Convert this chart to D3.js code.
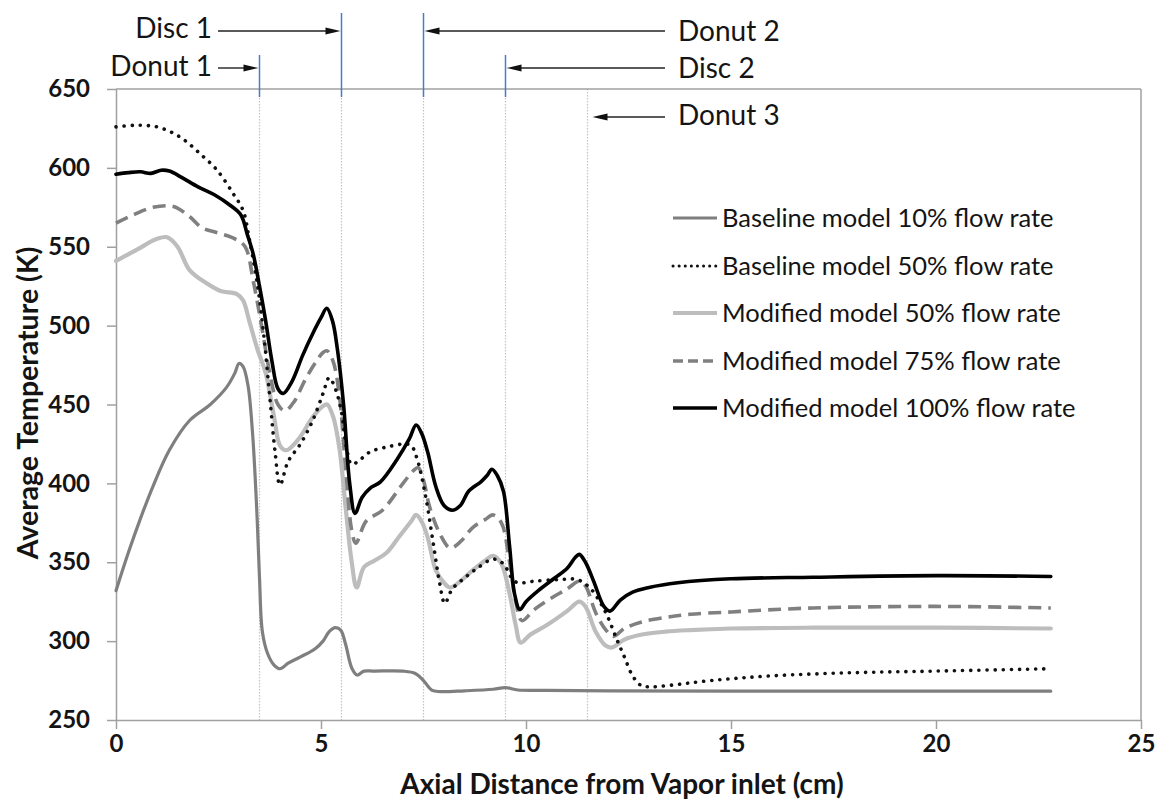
<!DOCTYPE html>
<html>
<head>
<meta charset="utf-8">
<script src="https://cdn.jsdelivr.net/npm/d3@7"></script>
<style>
  html, body { margin: 0; padding: 0; background: #fff; }
  svg { display: block; font-family: Lato, "Open Sans", sans-serif; }
</style>
</head>
<body>
<svg id="chart" width="1165" height="800"></svg>
<script>
// Axial temperature profiles, [distance (cm), temperature (K)]
const baseline10 = [
  [0,332],[0.3,356],[0.6,378],[0.9,398],[1.3,421],[1.8,440],[2.3,450],[2.7,461],[2.9,470],
  [3.0,476],[3.1,474],[3.22,462],[3.33,432],[3.43,385],[3.5,340],[3.57,306],[3.7,292],[3.85,285],
  [4.0,282.5],[4.2,286],[4.5,290],[4.85,295],[5.05,300],[5.2,306],[5.35,308.5],[5.48,307],
  [5.6,298],[5.75,283],[5.88,278.5],[6.05,281],[6.3,281],[7.0,281],[7.3,279.5],[7.5,275],
  [7.7,269],[7.9,268],[8.5,268.5],[9.2,269.5],[9.5,270.5],[9.8,269],[10.5,268.8],[12,268.5],
  [15,268.3],[22.8,268.3]
];
const baseline50 = [
  [0,626],[0.5,627],[1.0,626],[1.4,622],[1.7,617],[2.05,609],[2.45,599],[2.85,584],[3.1,573],
  [3.25,555],[3.45,526],[3.6,495],[3.75,455],[3.88,420],[4.0,399],[4.2,414],[4.5,425],[4.8,440],
  [5.05,457],[5.2,467],[5.35,460],[5.5,445],[5.62,423],[5.75,412],[5.95,415],[6.2,420],[6.6,423],
  [7.05,425],[7.2,424],[7.35,415],[7.55,392],[7.75,360],[7.9,336],[8.02,324],[8.2,333],[8.5,340],
  [8.8,346],[9.2,352],[9.45,349],[9.65,340],[9.8,337],[10.2,338],[10.8,339],[11.25,339],[11.55,334],
  [11.8,325],[12.0,315],[12.2,302],[12.4,290],[12.6,278],[12.8,272],[13.0,271],[13.5,272],
  [14.5,275],[16,278],[18,280],[20,281],[22.8,282.5]
];
const modified50 = [
  [0,541],[0.5,548],[1.0,555],[1.25,556],[1.5,550],[1.8,535],[2.2,527],[2.55,522],[2.95,520],
  [3.1,516],[3.25,503],[3.45,485],[3.65,470],[3.85,443],[4.0,424],[4.15,421],[4.45,428],[4.8,442],
  [5.05,449],[5.15,450],[5.3,442],[5.45,422],[5.6,385],[5.75,350],[5.87,334],[6.05,347],[6.3,351],
  [6.6,356],[6.9,366],[7.2,376],[7.32,380],[7.45,376],[7.6,366],[7.8,345],[8.0,337],[8.15,334],
  [8.4,338],[8.7,345],[9.0,351],[9.2,354],[9.4,349],[9.6,330],[9.75,310],[9.87,299],[10.1,304],
  [10.5,310],[11.0,319],[11.3,325],[11.45,322],[11.7,306],[11.95,297],[12.1,296],[12.4,301],
  [12.8,304],[13.4,306],[14,307],[15,308],[17,308.5],[20,308.5],[22.8,308]
];
const modified75 = [
  [0,565],[0.4,570],[0.9,575],[1.4,575.5],[1.8,569],[2.1,562],[2.45,559],[2.9,555],[3.15,550],
  [3.35,528],[3.55,500],[3.75,470],[3.95,450],[4.12,446],[4.35,452],[4.6,465],[4.85,476],[5.05,483],
  [5.15,484],[5.3,477],[5.45,455],[5.6,410],[5.75,370],[5.85,362],[6.1,376],[6.5,383],[7.0,400],
  [7.25,408],[7.37,410],[7.5,402],[7.65,385],[7.9,368],[8.15,359],[8.4,363],[8.7,372],[9.0,377],
  [9.2,380],[9.4,375],[9.6,350],[9.75,325],[9.9,313],[10.2,320],[10.6,327],[11.0,333],[11.3,338],
  [11.45,335],[11.7,318],[11.95,307],[12.13,303],[12.4,308],[12.8,312],[13.4,315],[14,317],
  [15,318.5],[17,321],[20,322],[22.8,321]
];
const modified100 = [
  [0,596],[0.3,597],[0.6,597.5],[0.85,596.5],[1.1,598.5],[1.3,598],[1.6,594],[2.0,588],[2.4,583],
  [2.8,576],[3.05,570],[3.2,558],[3.35,545],[3.5,525],[3.65,503],[3.8,478],[3.95,460],[4.08,457],
  [4.3,465],[4.55,481],[4.8,495],[5.0,505],[5.14,511],[5.28,503],[5.4,485],[5.55,450],[5.7,400],
  [5.83,381],[6.0,391],[6.2,397],[6.45,401],[6.85,415],[7.15,428],[7.32,437],[7.45,432],[7.6,420],
  [7.8,398],[8.0,386],[8.2,383],[8.4,386],[8.6,395],[8.9,401],[9.05,405],[9.17,409],[9.3,405],
  [9.45,395],[9.6,360],[9.72,330],[9.85,320],[10.0,325],[10.3,332],[10.7,340],[11.0,346],
  [11.2,353],[11.3,355],[11.45,350],[11.65,338],[11.9,322],[12.05,319],[12.3,326],[12.6,331],
  [13.0,334],[13.7,337],[15,339.5],[17,340.5],[20,341.5],[22.8,341]
];

const seriesNames = [
  "Baseline model 10% flow rate",
  "Baseline model 50% flow rate",
  "Modified model 50% flow rate",
  "Modified model 75% flow rate",
  "Modified model 100% flow rate"
];

const xTicks = [0, 5, 10, 15, 20, 25];
const yTicks = [250, 300, 350, 400, 450, 500, 550, 600, 650];

// Component positions along the axis
const componentLabels = ["Donut 1", "Disc 1", "Donut 2", "Disc 2", "Donut 3"];
const componentX = [3.5, 5.5, 7.5, 9.5, 11.5];

// ---- drawing ----
const svg = d3.select("#chart");
const W = 1165, H = 800;
svg.append("rect").attr("width", W).attr("height", H).attr("fill", "#fff");

const x = d3.scaleLinear().domain([0, 25]).range([116, 1141]);
const y = d3.scaleLinear().domain([250, 650]).range([720, 89]);

const axisColor = "#a0a0a0";
const textColor = "#141414";

// component guide lines (dotted)
svg.append("g").selectAll("line").data(componentX).join("line")
  .attr("x1", d => x(d)).attr("x2", d => x(d))
  .attr("y1", y(650)).attr("y2", y(250))
  .attr("stroke", "#c4c4c4").attr("stroke-width", 1.2)
  .attr("stroke-dasharray", "1.5 1.5");

// frame: top and right edges
svg.append("line").attr("x1", x(0)).attr("x2", x(25)).attr("y1", y(650)).attr("y2", y(650))
  .attr("stroke", axisColor).attr("stroke-width", 1.5);
svg.append("line").attr("x1", x(25)).attr("x2", x(25)).attr("y1", y(650)).attr("y2", y(250))
  .attr("stroke", axisColor).attr("stroke-width", 1.5);

// axes
const gx = svg.append("g").attr("transform", `translate(0,${y(250)})`)
  .call(d3.axisBottom(x).tickValues(xTicks).tickFormat(d3.format("d")).tickSize(9).tickPadding(6).tickSizeOuter(0));
const gy = svg.append("g").attr("transform", `translate(${x(0)},0)`)
  .call(d3.axisLeft(y).tickValues(yTicks).tickFormat(d3.format("d")).tickSize(9).tickPadding(17).tickSizeOuter(0));
[gx, gy].forEach(g => {
  g.select(".domain").attr("stroke", axisColor).attr("stroke-width", 1.5);
  g.selectAll(".tick line").attr("stroke", axisColor).attr("stroke-width", 1.5);
  g.selectAll(".tick text").attr("fill", textColor)
    .style("font-family", "Lato, sans-serif").style("font-weight", "700").style("font-size", "24px");
});

// axis titles
svg.append("text").attr("x", 622).attr("y", 794).attr("text-anchor", "middle")
  .style("font-weight", "700").style("font-size", "28px").attr("fill", textColor)
  .text("Axial Distance from Vapor inlet (cm)");
svg.append("text").attr("transform", "translate(38,403) rotate(-90)").attr("text-anchor", "middle")
  .style("font-weight", "700").style("font-size", "28.5px").attr("fill", textColor)
  .text("Average Temperature (K)");

// series styles
const styles = [
  { color: "#7f7f7f", width: 3.2, dash: null, cap: "round" },
  { color: "#111111", width: 3.6, dash: "0.1 8", cap: "round" },
  { color: "#bdbdbd", width: 4.2, dash: null, cap: "round" },
  { color: "#808080", width: 3.6, dash: "13 7", cap: "butt" },
  { color: "#000000", width: 3.6, dash: null, cap: "round" }
];
const seriesData = [baseline10, baseline50, modified50, modified75, modified100];
const drawOrder = [2, 0, 3, 1, 4];

const line = d3.line().x(d => x(d[0])).y(d => y(d[1])).curve(d3.curveCatmullRom.alpha(0.5));

const gLines = svg.append("g");
drawOrder.forEach(i => {
  const s = styles[i];
  gLines.append("path").datum(seriesData[i])
    .attr("d", line).attr("fill", "none")
    .attr("stroke", s.color).attr("stroke-width", s.width)
    .attr("stroke-linecap", s.cap).attr("stroke-linejoin", "round")
    .attr("stroke-dasharray", s.dash);
});

// legend
const legendRows = [218, 266, 313, 361, 408];
const lg = svg.append("g");
seriesNames.forEach((name, i) => {
  const s = styles[i];
  lg.append("line").attr("x1", 673).attr("x2", 717).attr("y1", legendRows[i]).attr("y2", legendRows[i])
    .attr("stroke", s.color).attr("stroke-width", s.dash === "0.1 8" ? 3 : s.width)
    .attr("stroke-linecap", s.dash ? s.cap : "butt")
    .attr("stroke-dasharray", s.dash === "13 7" ? "10 5" : (s.dash ? "0.1 6" : null));
  lg.append("text").attr("x", 722).attr("y", legendRows[i]).attr("dy", "0.35em")
    .style("font-size", "25.5px").attr("fill", textColor).text(name);
});

// component annotations: labels with arrows pointing to the guide lines
const arrowLayout = [
  { side: "left",  arrowY: 68, textY: 76,  blueTop: 55 },
  { side: "left",  arrowY: 31, textY: 38,  blueTop: 13 },
  { side: "right", arrowY: 31, textY: 41,  blueTop: 13 },
  { side: "right", arrowY: 68, textY: 78,  blueTop: 55 },
  { side: "right", arrowY: 117, textY: 125, blueTop: null }
];
const ann = svg.append("g");
function arrowHead(tipX, tipY, dir) {
  const len = 15, half = 3.5;
  const bx = tipX - dir * len;
  return `M${tipX},${tipY}L${bx},${tipY - half}L${bx},${tipY + half}Z`;
}
componentLabels.forEach((lab, i) => {
  const L = arrowLayout[i];
  const lx = x(componentX[i]);
  if (L.blueTop !== null) {
    ann.append("line").attr("x1", lx).attr("x2", lx).attr("y1", L.blueTop).attr("y2", 97)
      .attr("stroke", "#4a7bc8").attr("stroke-width", 1.5);
  }
  let startX, tipX, dir;
  if (L.side === "left") {
    startX = 218; tipX = lx - 1; dir = 1;
    ann.append("text").attr("x", 212).attr("y", L.textY).attr("text-anchor", "end")
      .style("font-size", "28px").attr("fill", textColor).text(lab);
  } else {
    startX = 665; tipX = (L.blueTop !== null) ? lx + 1 : lx + 5; dir = -1;
    ann.append("text").attr("x", 678).attr("y", L.textY).attr("text-anchor", "start")
      .style("font-size", "28px").attr("fill", textColor).text(lab);
  }
  ann.append("line").attr("x1", startX).attr("x2", tipX - dir * 12)
    .attr("y1", L.arrowY).attr("y2", L.arrowY)
    .attr("stroke", "#222").attr("stroke-width", 1.4);
  ann.append("path").attr("d", arrowHead(tipX, L.arrowY, dir)).attr("fill", "#111");
});
</script>
</body>
</html>
